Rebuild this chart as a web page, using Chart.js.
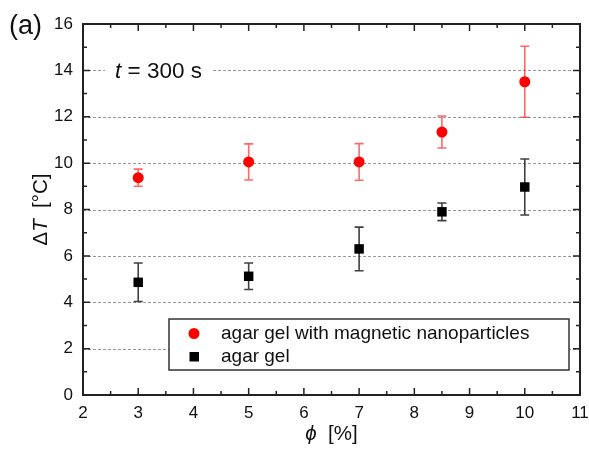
<!DOCTYPE html>
<html>
<head>
<meta charset="utf-8">
<script src="https://cdn.jsdelivr.net/npm/chart.js@4"></script>
<style>
  body { margin: 0; background: #fff; }
  canvas { display: block; }
</style>
</head>
<body>
<canvas id="myChart" width="589" height="451"></canvas>
<script>
    // volume fraction phi [%] and temperature rise after 300 s
    const phi = [3, 5, 7, 8.5, 10];
    const dtNano = [9.37, 10.05, 10.05, 11.34, 13.51];
    const errNano = [0.37, 0.78, 0.79, 0.69, 1.53];
    const dtGel = [4.86, 5.12, 6.30, 7.90, 8.97];
    const errGel = [0.83, 0.57, 0.94, 0.38, 1.21];

    const xTicks = [2, 3, 4, 5, 6, 7, 8, 9, 10, 11];
    const yTicks = [0, 2, 4, 6, 8, 10, 12, 14, 16];
    const legendLabels = ['agar gel with magnetic nanoparticles', 'agar gel'];

    const FONT = "'Liberation Sans', Arial, sans-serif";

    function pts(ys) {
        return phi.map((x, i) => ({ x: x, y: ys[i] }));
    }

    // writes a run of [text, italic] pieces starting at x
    function drawPieces(ctx, pieces, x, y, size) {
        pieces.forEach(p => {
            ctx.font = (p[1] ? 'italic ' : '') + size + 'px ' + FONT;
            ctx.fillText(p[0], x, y);
            x += ctx.measureText(p[0]).width;
        });
    }

    function piecesWidth(ctx, pieces, size) {
        let w = 0;
        pieces.forEach(p => {
            ctx.font = (p[1] ? 'italic ' : '') + size + 'px ' + FONT;
            w += ctx.measureText(p[0]).width;
        });
        return w;
    }

    const decorations = {
        id: 'decorations',
        beforeDatasetsDraw(chart) {
            const ctx = chart.ctx;
            const area = chart.chartArea;
            const xs = chart.scales.x, ys = chart.scales.y;
            ctx.save();

            // dashed horizontal grid
            ctx.strokeStyle = '#999';
            ctx.lineWidth = 1;
            ctx.setLineDash([3, 2]);
            yTicks.forEach(v => {
                if (v === 0 || v === 16) return;
                const y = Math.round(ys.getPixelForValue(v)) + 0.5;
                ctx.beginPath();
                ctx.moveTo(area.left, y);
                ctx.lineTo(area.right, y);
                ctx.stroke();
            });
            ctx.setLineDash([]);

            // time label, blanking the grid behind it
            const ly = ys.getPixelForValue(14);
            ctx.fillStyle = '#fff';
            ctx.fillRect(105, ly - 12, 107, 24);
            ctx.fillStyle = '#111';
            ctx.textBaseline = 'alphabetic';
            drawPieces(ctx, [['t', true], [' = 300 s', false]], 115, ly + 8, 22.5);

            // error bars
            const bars = [[dtNano, errNano, 'rgba(255,40,40,0.7)'], [dtGel, errGel, 'rgba(30,30,30,0.85)']];
            bars.forEach(b => {
                ctx.strokeStyle = b[2];
                ctx.lineWidth = 1.6;
                phi.forEach((p, i) => {
                    const x = xs.getPixelForValue(p);
                    const top = ys.getPixelForValue(b[0][i] + b[1][i]);
                    const bot = ys.getPixelForValue(b[0][i] - b[1][i]);
                    ctx.beginPath();
                    ctx.moveTo(x, top); ctx.lineTo(x, bot);
                    ctx.moveTo(x - 4.5, top); ctx.lineTo(x + 4.5, top);
                    ctx.moveTo(x - 4.5, bot); ctx.lineTo(x + 4.5, bot);
                    ctx.stroke();
                });
            });
            ctx.restore();
        },
        afterDatasetsDraw(chart) {
            const ctx = chart.ctx;
            const area = chart.chartArea;
            const xs = chart.scales.x, ys = chart.scales.y;
            ctx.save();

            // frame
            ctx.strokeStyle = '#222';
            ctx.lineWidth = 2;
            ctx.strokeRect(area.left, area.top, area.right - area.left, area.bottom - area.top);

            // inward ticks on all four sides
            ctx.lineWidth = 1.5;
            ctx.beginPath();
            for (let v = 2; v <= 11; v += 0.5) {
                const x = xs.getPixelForValue(v);
                const len = Number.isInteger(v) ? 7 : 4;
                ctx.moveTo(x, area.bottom); ctx.lineTo(x, area.bottom - len);
                ctx.moveTo(x, area.top); ctx.lineTo(x, area.top + len);
            }
            for (let v = 0; v <= 16; v += 1) {
                const y = ys.getPixelForValue(v);
                const len = v % 2 === 0 ? 7 : 4;
                ctx.moveTo(area.left, y); ctx.lineTo(area.left + len, y);
                ctx.moveTo(area.right, y); ctx.lineTo(area.right - len, y);
            }
            ctx.stroke();

            // legend box
            ctx.fillStyle = '#fff';
            ctx.fillRect(169, 319, 400, 51);
            ctx.strokeStyle = '#333';
            ctx.lineWidth = 1.5;
            ctx.strokeRect(169, 319, 400, 51);
            ctx.fillStyle = '#ff0000';
            ctx.beginPath();
            ctx.arc(194, 333.5, 5.5, 0, Math.PI * 2);
            ctx.fill();
            ctx.fillStyle = '#000';
            ctx.fillRect(189.5, 352, 9.5, 9.5);
            ctx.fillStyle = '#111';
            ctx.font = '19px ' + FONT;
            ctx.textBaseline = 'middle';
            ctx.fillText(legendLabels[0], 221, 334);
            ctx.fillText(legendLabels[1], 221, 357);

            // axis titles
            ctx.textBaseline = 'middle';
            const xt = [['ϕ', true], ['  [%]', false]];
            const xw = piecesWidth(ctx, xt, 20.5);
            drawPieces(ctx, xt, (area.left + area.right) / 2 - xw / 2, 434, 20.5);

            const yt = [['Δ', false], ['T', true], ['  [°C]', false]];
            const yw = piecesWidth(ctx, yt, 20.5);
            ctx.translate(41, (area.top + area.bottom) / 2);
            ctx.rotate(-Math.PI / 2);
            drawPieces(ctx, yt, -yw / 2, 0, 20.5);
            ctx.setTransform(1, 0, 0, 1, 0, 0);

            // panel letter
            ctx.font = '27px ' + FONT;
            ctx.textBaseline = 'alphabetic';
            ctx.fillText('(a)', 9, 34);
            ctx.restore();
        }
    };

    var ctx = document.getElementById('myChart');
    var myChart = new Chart(ctx, {
        type: 'scatter',
        data: {
            datasets: [{
                label: legendLabels[0],
                data: pts(dtNano),
                pointStyle: 'circle',
                pointRadius: 5.5,
                pointHoverRadius: 5.5,
                backgroundColor: '#ff0000',
                borderColor: '#ff0000',
                borderWidth: 0,
            }, {
                label: legendLabels[1],
                data: pts(dtGel),
                pointStyle: 'rect',
                pointRadius: 6.7,
                pointHoverRadius: 6.7,
                backgroundColor: '#000',
                borderColor: '#000',
                borderWidth: 0,
            }],
        },
        options: {
            responsive: false,
            animation: false,
            events: [],
            layout: { padding: { top: 24, right: 9, left: 0, bottom: 0 } },
            plugins: { legend: { display: false }, tooltip: { enabled: false } },
            scales: {
                x: {
                    type: 'linear',
                    min: 2, max: 11,
                    afterBuildTicks: s => { s.ticks = xTicks.map(v => ({ value: v })); },
                    afterFit: s => { s.height = 56; s.paddingLeft = 0; s.paddingRight = 0; },
                    grid: { display: false },
                    border: { display: false },
                    ticks: { color: '#111', font: { family: FONT, size: 17 }, padding: 0, maxRotation: 0 },
                },
                y: {
                    min: 0, max: 16,
                    afterBuildTicks: s => { s.ticks = yTicks.map(v => ({ value: v })); },
                    afterFit: s => { s.width = 83; s.paddingTop = 0; s.paddingBottom = 0; },
                    grid: { display: false },
                    border: { display: false },
                    ticks: { color: '#111', font: { family: FONT, size: 17 }, padding: 2 },
                },
            },
        },
        plugins: [decorations],
    });
</script>
</body>
</html>
